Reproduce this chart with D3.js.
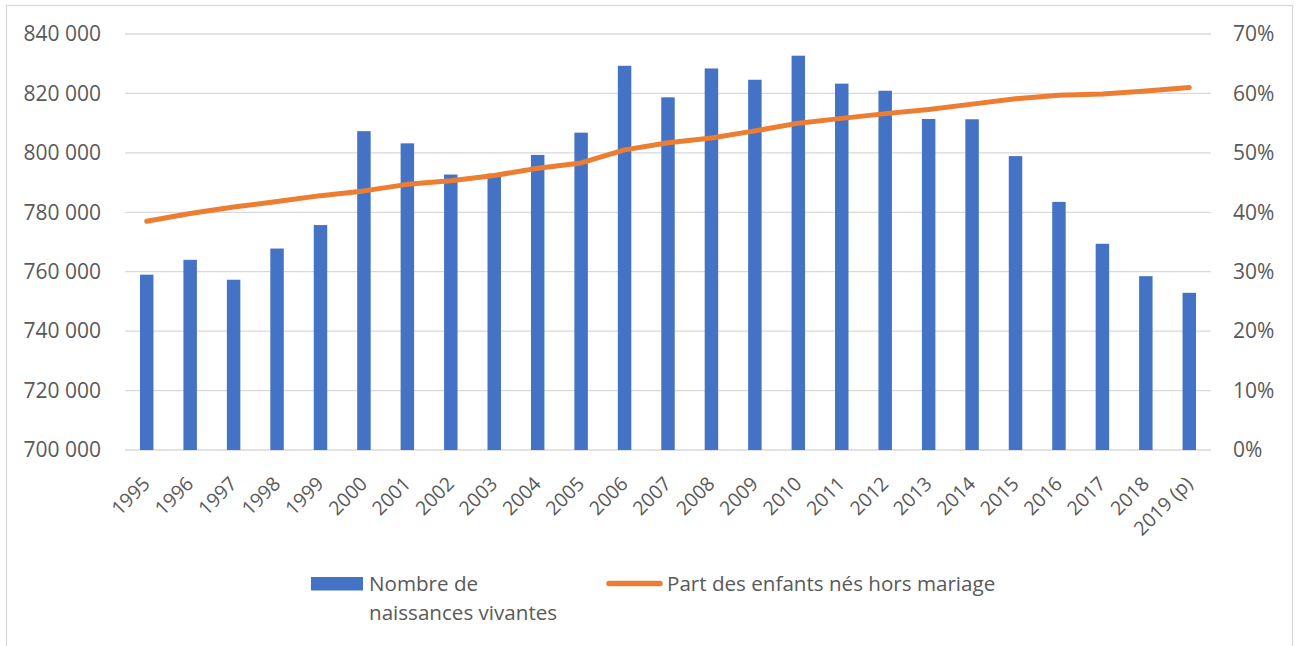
<!DOCTYPE html>
<html>
<head>
<meta charset="utf-8">
<script src="https://cdn.jsdelivr.net/npm/d3@7"></script>
<style>
  html, body { margin: 0; padding: 0; background: #fff; }
  svg text { font-family: "Open Sans", "Noto Sans", sans-serif; fill: #595959; }
</style>
</head>
<body>
<div id="chart"></div>
<script>
// Naissances vivantes et part des enfants nés hors mariage, France 1995-2019
const years = ["1995", "1996", "1997", "1998", "1999", "2000", "2001", "2002", "2003", "2004",
  "2005", "2006", "2007", "2008", "2009", "2010", "2011", "2012", "2013", "2014",
  "2015", "2016", "2017", "2018", "2019 (p)"];
const births = [759000, 764000, 757300, 767800, 775700, 807300, 803200, 792700, 793000, 799300,
  806800, 829300, 818700, 828400, 824600, 832700, 823300, 820900, 811400, 811300,
  798900, 783500, 769400, 758500, 752900];
const shareOutOfWedlock = [38.5, 39.8, 40.9, 41.8, 42.8, 43.6, 44.7, 45.3, 46.2, 47.4,
  48.3, 50.5, 51.7, 52.5, 53.7, 55.0, 55.8, 56.6, 57.3, 58.2,
  59.1, 59.7, 59.9, 60.4, 61.0];
const leftTicks = [700000, 720000, 740000, 760000, 780000, 800000, 820000, 840000];
const rightTicks = [0, 10, 20, 30, 40, 50, 60, 70];
const legendBars = ["Nombre de", "naissances vivantes"];
const legendLine = "Part des enfants nés hors mariage";

const width = 1298, height = 646;
const plot = { left: 125, right: 1211, top: 34, bottom: 450 };

const svg = d3.select("#chart").append("svg")
  .attr("width", width)
  .attr("height", height);

// cadre du graphique
svg.append("rect")
  .attr("x", 6.5).attr("y", 5.5)
  .attr("width", 1286).attr("height", 660)
  .attr("fill", "none")
  .attr("stroke", "#d9d9d9")
  .attr("stroke-width", 1.3);

const x = d3.scaleBand()
  .domain(years)
  .range([plot.left, plot.right])
  .paddingInner(0.69)
  .paddingOuter(0.345);

const yLeft = d3.scaleLinear().domain([700000, 840000]).range([plot.bottom, plot.top]);
const yRight = d3.scaleLinear().domain([0, 70]).range([plot.bottom, plot.top]);

const fr = d3.formatLocale({ decimal: ",", thousands: " ", grouping: [3], currency: ["", " €"] });
const fmtNum = fr.format(",d");

// quadrillage
svg.append("g")
  .selectAll("line")
  .data(leftTicks)
  .join("line")
  .attr("x1", plot.left).attr("x2", plot.right)
  .attr("y1", d => yLeft(d)).attr("y2", d => yLeft(d))
  .attr("stroke", "#d9d9d9")
  .attr("stroke-width", 1.3);

// barres
svg.append("g")
  .selectAll("rect")
  .data(years)
  .join("rect")
  .attr("x", d => x(d))
  .attr("width", x.bandwidth())
  .attr("y", (d, i) => yLeft(births[i]))
  .attr("height", (d, i) => yLeft(700000) - yLeft(births[i]))
  .attr("fill", "#4472c4");

// courbe
const line = d3.line()
  .x((d, i) => x(years[i]) + x.bandwidth() / 2)
  .y(d => yRight(d));

svg.append("path")
  .datum(shareOutOfWedlock)
  .attr("d", line)
  .attr("fill", "none")
  .attr("stroke", "#ed7d31")
  .attr("stroke-width", 5)
  .attr("stroke-linejoin", "round")
  .attr("stroke-linecap", "round");

// axe gauche
const axL = svg.append("g")
  .attr("transform", `translate(${plot.left},0)`)
  .call(d3.axisLeft(yLeft).tickValues(leftTicks).tickFormat(fmtNum).tickSize(0).tickPadding(24));
axL.select(".domain").remove();
axL.selectAll("text").style("font-size", "21px").style("font-family", null).attr("fill", "#595959");

// axe droit
const axR = svg.append("g")
  .attr("transform", `translate(${plot.right},0)`)
  .call(d3.axisRight(yRight).tickValues(rightTicks).tickFormat(d => d + "%").tickSize(0).tickPadding(22));
axR.select(".domain").remove();
axR.selectAll("text").style("font-size", "21px").style("font-family", null).attr("fill", "#595959");

// axe des années
const axX = svg.append("g")
  .attr("transform", `translate(0,${plot.bottom})`)
  .call(d3.axisBottom(x).tickSize(0));
axX.select(".domain").remove();
axX.selectAll("text")
  .style("font-size", "19.5px")
  .style("font-family", null)
  .attr("fill", "#595959")
  .attr("text-anchor", "end")
  .attr("x", 0).attr("y", 0).attr("dy", 0)
  .attr("transform", "translate(4.5,35) rotate(-45)");

// légende
const leg = svg.append("g").style("font-size", "20.6px");
leg.append("rect")
  .attr("x", 311).attr("y", 577)
  .attr("width", 52).attr("height", 13.5)
  .attr("fill", "#4472c4");
leg.selectAll("text.bars")
  .data(legendBars)
  .join("text")
  .attr("class", "bars")
  .attr("x", 369)
  .attr("y", (d, i) => 591 + i * 28.5)
  .text(d => d);

leg.append("line")
  .attr("x1", 609).attr("x2", 660)
  .attr("y1", 583.5).attr("y2", 583.5)
  .attr("stroke", "#ed7d31")
  .attr("stroke-width", 5.5)
  .attr("stroke-linecap", "round");
leg.append("text").attr("x", 667).attr("y", 591)
  .text(legendLine);
</script>
</body>
</html>
